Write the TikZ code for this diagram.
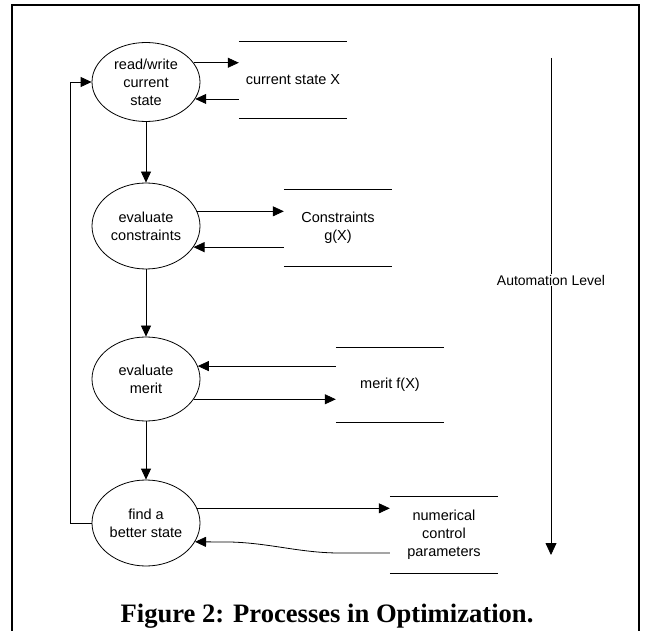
\documentclass[tikz,border=0pt]{standalone}
\usepackage{fontspec}
\setmainfont{Liberation Sans}
\newfontfamily\capfont{Liberation Serif}
\usetikzlibrary{shapes,arrows.meta,positioning}

\begin{document}
\begin{tikzpicture}[x=1pt,y=-1pt]
      \tikzstyle{process} = [ellipse, draw, line width=0.8pt, minimum width=108pt, minimum height=84pt, inner sep=0pt, align=center, font=\fontsize{14.5}{18}\selectfont]
      \tikzstyle{store} = [minimum width=108pt, minimum height=76pt, inner sep=0pt, align=center, font=\fontsize{14.5}{18}\selectfont,
        append after command={(\tikzlastnode.north west) edge[line width=0.8pt] (\tikzlastnode.north east)
                              (\tikzlastnode.south west) edge[line width=0.8pt] (\tikzlastnode.south east)}]
      \tikzstyle{flow} = [-{Triangle[length=11pt,width=10pt]}, line width=0.8pt]

      \useasboundingbox (0,0) rectangle (646,631);
      \fill[white] (0,0) rectangle (646,631);
      \draw[line width=2.7pt, line join=miter] (12,631) -- (12,5) -- (639,5) -- (639,631);

      % processes
      \node[process, minimum height=79pt] (rw) at (146,82) {read/write\\current\\state};
      \node[process, minimum height=86pt] (ec) at (146,226) {evaluate\\constraints};
      \node[process] (em) at (146,379) {evaluate\\merit};
      \node[process, minimum height=86pt] (fb) at (146,523) {find a\\better state};

      % data stores
      \node[store] (cs) at (293,80) {current state X};
      \node[store, minimum height=77pt] (gc) at (338,228) {Constraints\\g(X)};
      \node[store, minimum height=74pt] (mf) at (390,385) {merit f(X)};
      \node[store] (np) at (444,535) {numerical\\control\\parameters};

      \draw[flow] (rw) -- (ec);
      \draw[flow] (ec) -- (em);
      \draw[flow] (em) -- (fb);

      \coordinate (loop) at (70,0);
      \draw[flow] (fb.west) -- (fb.west -| loop) |- (rw.west);

      \draw[flow] (rw.22) -- (rw.22 -| cs.west);
      \draw[flow] (rw.-19 -| cs.west) -- (rw.-19);
      \draw[flow] (ec.16) -- (ec.16 -| gc.west);
      \draw[flow] (ec.-24 -| gc.west) -- (ec.-24);
      \draw[flow] (em.14 -| mf.west) -- (em.14);
      \draw[flow] (em.-23) -- (em.-23 -| mf.west);
      \draw[flow] (fb.16) -- (fb.16 -| np.west);
      \draw[flow] ([yshift=-18pt]np.west) -- ++(-50,0) .. controls (300,553) and (270,543) .. (230,542) -- (fb.-21);

      % automation level
      \coordinate (autotop) at (551,58);
      \coordinate (autobot) at (551,555);
      \draw[flow, -{Triangle[length=12pt,width=11pt]}] (autotop) -- (autobot)
        node[pos=0.447, fill=white, inner sep=1pt, font=\fontsize{14}{18}\selectfont] (autolabel) {Automation Level};

      \node[anchor=base, font=\capfont\bfseries\fontsize{26.6}{30}\selectfont] (caption) at (327,622) {Figure 2: Processes in Optimization.};
    \end{tikzpicture}
\end{document}
